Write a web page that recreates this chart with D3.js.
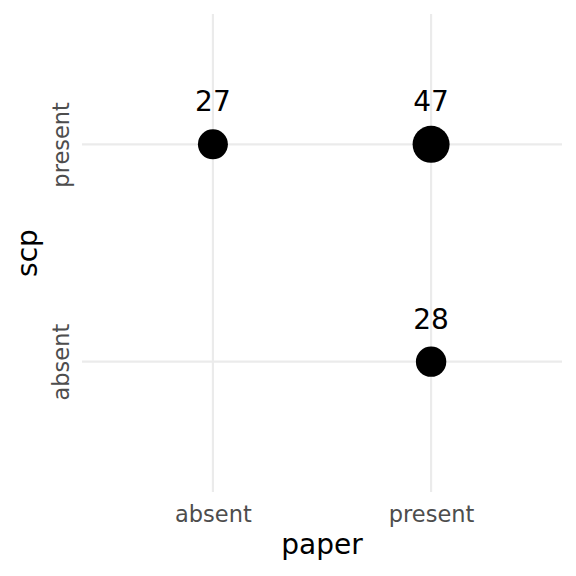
<!DOCTYPE html>
<html>
<head>
<meta charset="utf-8">
<script src="https://cdn.jsdelivr.net/npm/d3@7"></script>
<style>
html,body{margin:0;padding:0;background:#fff;}
svg{display:block;}
text{font-family:"DejaVu Sans",sans-serif;}
</style>
</head>
<body>
<div id="chart"></div>
<script>
const paperCats = ["absent", "present"];
const scpCats = ["absent", "present"];
const pointPaper = ["absent", "present", "present"];
const pointScp = ["present", "present", "absent"];
const pointCount = [27, 47, 28];

const W = 576, H = 576;
const panel = {left: 82, right: 562, top: 14, bottom: 492};

const svg = d3.select("#chart").append("svg").attr("width", W).attr("height", H);

const x = d3.scalePoint().domain(paperCats).range([panel.left, panel.right]).padding(0.6);
const y = d3.scalePoint().domain(scpCats).range([panel.bottom, panel.top]).padding(0.6);
const r = d3.scaleSqrt().domain([0, d3.max(pointCount)]).range([4, 18.5]);

// gridlines
svg.append("g").selectAll("line").data(paperCats).join("line")
  .attr("x1", d => x(d)).attr("x2", d => x(d))
  .attr("y1", panel.top).attr("y2", panel.bottom)
  .attr("stroke", "#EBEBEB").attr("stroke-width", 2.1);
svg.append("g").selectAll("line").data(scpCats).join("line")
  .attr("y1", d => y(d)).attr("y2", d => y(d))
  .attr("x1", panel.left).attr("x2", panel.right)
  .attr("stroke", "#EBEBEB").attr("stroke-width", 2.1);

// axes via d3 axis, styled minimal
const xAxis = svg.append("g").attr("transform", `translate(0,${panel.bottom})`)
  .call(d3.axisBottom(x).tickSize(0).tickPadding(0));
xAxis.select(".domain").remove();
xAxis.selectAll("text").attr("font-size", 22.5).attr("fill", "#4D4D4D")
  .attr("dy", null).attr("y", 30).attr("font-family", "DejaVu Sans");

const yAxis = svg.append("g").attr("transform", `translate(${panel.left},0)`)
  .call(d3.axisLeft(y).tickSize(0).tickPadding(0));
yAxis.select(".domain").remove();
yAxis.selectAll("text").attr("font-size", 22.5).attr("fill", "#4D4D4D")
  .attr("x", null).attr("dy", null)
  .attr("text-anchor", "middle")
  .attr("transform", "translate(-13,0) rotate(-90)")
  .attr("font-family", "DejaVu Sans");

// axis titles
svg.append("text").attr("x", (panel.left + panel.right) / 2).attr("y", 554)
  .attr("text-anchor", "middle").attr("font-size", 28).attr("fill", "#000").text("paper");
svg.append("text").attr("transform", `translate(37,${(panel.top + panel.bottom) / 2}) rotate(-90)`)
  .attr("text-anchor", "middle").attr("font-size", 28).attr("fill", "#000").text("scp");

// points
const idx = d3.range(pointCount.length);
svg.append("g").selectAll("circle").data(idx).join("circle")
  .attr("cx", i => x(pointPaper[i])).attr("cy", i => y(pointScp[i]))
  .attr("r", i => r(pointCount[i])).attr("fill", "#000");

// labels
svg.append("g").selectAll("text").data(idx).join("text")
  .attr("x", i => x(pointPaper[i])).attr("y", i => y(pointScp[i]) - 33)
  .attr("text-anchor", "middle").attr("font-size", 28).attr("fill", "#000")
  .text(i => pointCount[i]);
</script>
</body>
</html>
